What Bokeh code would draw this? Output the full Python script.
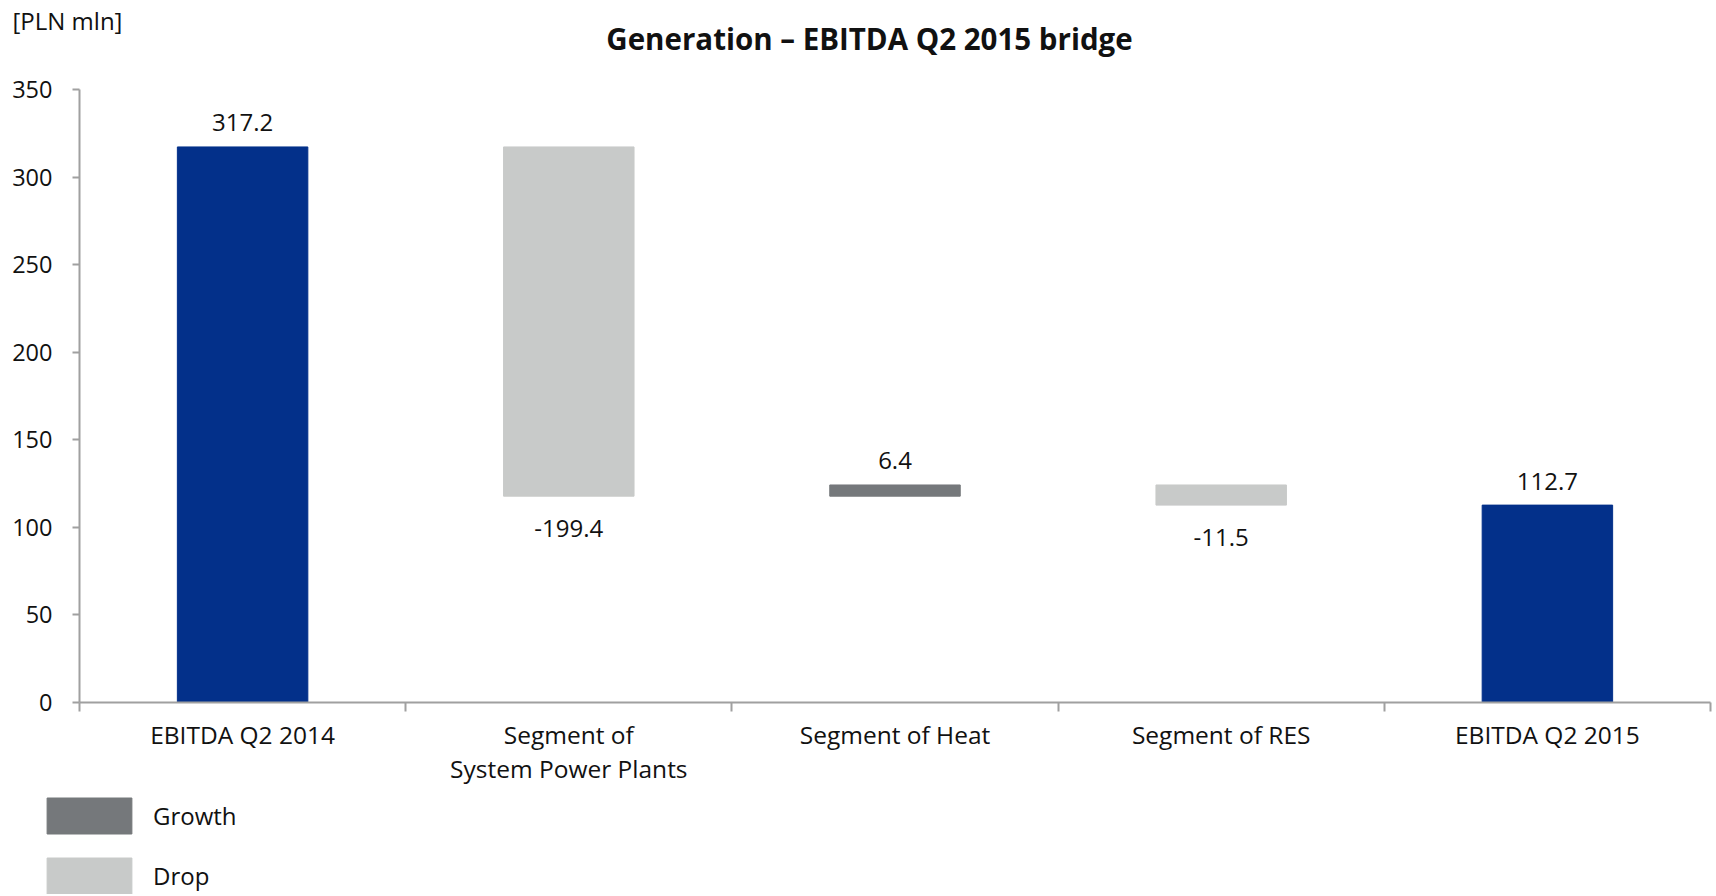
from bokeh.plotting import figure
from bokeh.models import (ColumnDataSource, Range1d, FixedTicker, Label, Legend, LegendItem)
from bokeh.core.properties import value
from bokeh.embed import file_html
from bokeh.resources import INLINE

# ---- data ----
categories = ["EBITDA Q2 2014", "Segment of\nSystem Power Plants", "Segment of Heat",
              "Segment of RES", "EBITDA Q2 2015"]
values = [317.2, -199.4, 6.4, -11.5, 112.7]
kinds = ["total", "delta", "delta", "delta", "total"]
value_labels = ["317.2", "-199.4", "6.4", "-11.5", "112.7"]
y_ticks = [0, 50, 100, 150, 200, 250, 300, 350]
title_text = "Generation \u2013 EBITDA Q2 2015 bridge"
unit_text = "[PLN mln]"

# ---- style / layout ----
FONT = "Open Sans"
BLUE = "#03308A"
GROWTH = "#75787B"
DROP = "#C8CAC9"
AXIS = "#A0A0A0"
TXT = "#111111"

W, H = 1714, 894
AX_LEFT, AX_RIGHT, AX_TOP, AX_BOTTOM = 79, 1710, 89, 702   # pixel box of the axes

# ---- waterfall geometry from the values ----
xs, bottoms, tops = [], [], []
running = 0.0
for i, (v, k) in enumerate(zip(values, kinds)):
    xs.append(i + 0.5)
    if k == "total":
        b, t = 0.0, v
        running = v
    else:
        b, t = min(running, running + v), max(running, running + v)
        running = running + v
    bottoms.append(b)
    tops.append(t)

def subset(pred):
    idx = [i for i in range(len(values)) if pred(i)]
    return ColumnDataSource(dict(
        x=[xs[i] for i in idx], bottom=[bottoms[i] for i in idx], top=[tops[i] for i in idx],
        label=[value_labels[i] for i in idx]))

src_total = subset(lambda i: kinds[i] == "total")
src_growth = subset(lambda i: kinds[i] == "delta" and values[i] >= 0)
src_drop = subset(lambda i: kinds[i] == "delta" and values[i] < 0)
src_up = subset(lambda i: values[i] >= 0)
src_down = subset(lambda i: values[i] < 0)

# ranges chosen so that the frame fills the whole canvas and the axes sit in the pixel box
n = len(categories)
ymax = y_ticks[-1]
ux = (AX_RIGHT - AX_LEFT) / n
uy = (AX_BOTTOM - AX_TOP) / ymax
x_range = Range1d(-AX_LEFT / ux, (W - AX_LEFT) / ux)
y_range = Range1d(-(H - AX_BOTTOM) / uy, AX_BOTTOM / uy)

p = figure(width=W, height=H, output_backend="svg", toolbar_location=None,
           x_range=x_range, y_range=y_range,
           min_border=0, min_border_left=0, min_border_right=0,
           min_border_top=0, min_border_bottom=0)
p.outline_line_color = None
p.xgrid.grid_line_color = None
p.ygrid.grid_line_color = None

BW = 0.4
p.vbar(x="x", bottom="bottom", top="top", width=BW, source=src_total, color=BLUE)
r_growth = p.vbar(x="x", bottom="bottom", top="top", width=BW, source=src_growth, color=GROWTH)
r_drop = p.vbar(x="x", bottom="bottom", top="top", width=BW, source=src_drop, color=DROP)

p.text(x="x", y="top", text="label", source=src_up, text_align="center",
       text_baseline="middle", y_offset=-24, text_font=value(FONT),
       text_font_size="24px", text_color=TXT)
p.text(x="x", y="bottom", text="label", source=src_down, text_align="center",
       text_baseline="middle", y_offset=32, text_font=value(FONT),
       text_font_size="24px", text_color=TXT)

# ---- axes, pinned at the zero lines ----
xa = p.xaxis[0]
xa.fixed_location = 0
xa.bounds = (0, n)
xa.ticker = FixedTicker(ticks=xs, minor_ticks=[i for i in range(n + 1)])
xa.major_label_overrides = {x: c for x, c in zip(xs, categories)}
xa.major_tick_line_color = None
xa.major_tick_out = 0
xa.major_tick_in = 0
xa.minor_tick_line_color = AXIS
xa.minor_tick_out = 9
xa.minor_tick_in = 0
xa.minor_tick_line_width = 2
xa.axis_line_color = AXIS
xa.axis_line_width = 2
xa.major_label_standoff = 6
xa.major_label_text_font = FONT
xa.major_label_text_font_size = "24.5px"
xa.major_label_text_line_height = 1.05
xa.major_label_text_color = TXT

ya = p.yaxis[0]
ya.fixed_location = 0
ya.bounds = (0, ymax)
ya.ticker = FixedTicker(ticks=y_ticks)
ya.axis_line_color = AXIS
ya.axis_line_width = 2
ya.major_tick_line_color = AXIS
ya.major_tick_line_width = 2
ya.major_tick_out = 7
ya.major_tick_in = 0
ya.minor_tick_line_color = None
ya.major_label_standoff = 20
ya.major_label_text_font = FONT
ya.major_label_text_font_size = "23.5px"
ya.major_label_text_color = TXT

# ---- titles ----
p.add_layout(Label(x=869, y=H - 38, x_units="screen", y_units="screen", text=title_text,
                   text_align="center", text_baseline="middle", text_font=FONT,
                   text_font_style="bold", text_font_size="29.5px", text_color=TXT))
p.add_layout(Label(x=12, y=H - 20, x_units="screen", y_units="screen", text=unit_text,
                   text_align="left", text_baseline="middle", text_font=FONT,
                   text_font_size="24px", text_color=TXT))

# ---- legend (legend swatches are drawn at 80% of the glyph box) ----
legend = Legend(items=[LegendItem(label="Growth", renderers=[r_growth]),
                       LegendItem(label="Drop", renderers=[r_drop])],
                location=(36, -4), orientation="vertical",
                glyph_width=106, glyph_height=45, label_height=45, spacing=15,
                label_standoff=11, padding=0, margin=0,
                border_line_color=None, background_fill_alpha=0,
                label_text_font=FONT, label_text_font_size="24px", label_text_color=TXT)
p.add_layout(legend, "center")

open("out.html", "w").write(file_html(p, INLINE))
